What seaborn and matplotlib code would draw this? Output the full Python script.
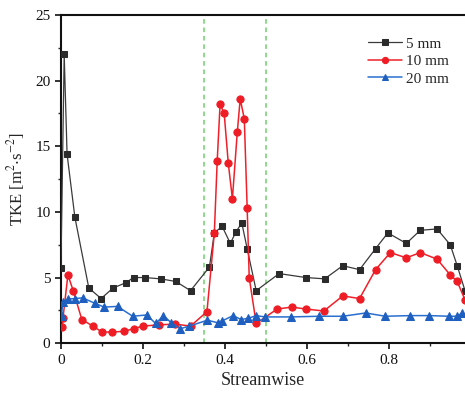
import matplotlib
matplotlib.use("Agg")
import matplotlib.pyplot as plt
import seaborn as sns
import pandas as pd
from matplotlib.ticker import MultipleLocator

# 5 mm series
x5 = [0.0, 0.008, 0.015, 0.034, 0.068, 0.098, 0.127, 0.158, 0.177, 0.204, 0.243,
      0.28, 0.316, 0.362, 0.374, 0.393, 0.413, 0.427, 0.441, 0.454, 0.476,
      0.532, 0.597, 0.643, 0.687, 0.728, 0.767, 0.797, 0.842, 0.876, 0.917,
      0.949, 0.966, 0.985]
y5 = [5.7, 22.0, 14.4, 9.6, 4.2, 3.4, 4.2, 4.6, 5.0, 5.0, 4.9,
      4.7, 4.0, 5.8, 8.4, 8.9, 7.6, 8.5, 9.15, 7.2, 4.0,
      5.3, 5.0, 4.9, 5.9, 5.6, 7.2, 8.4, 7.6, 8.6, 8.7,
      7.5, 5.9, 4.0]

# 10 mm series
x10 = [0.003, 0.005, 0.017, 0.03, 0.051, 0.078, 0.1, 0.124, 0.153, 0.177, 0.2,
       0.24, 0.279, 0.316, 0.356, 0.374, 0.381, 0.388, 0.398, 0.408, 0.418,
       0.43, 0.437, 0.447, 0.454, 0.459, 0.476, 0.527, 0.563, 0.597, 0.641,
       0.687, 0.728, 0.767, 0.803, 0.842, 0.876, 0.917, 0.949, 0.966, 0.985]
y10 = [1.2, 1.9, 5.2, 4.0, 1.8, 1.3, 0.85, 0.85, 0.9, 1.1, 1.3,
       1.4, 1.45, 1.3, 2.4, 8.4, 13.9, 18.2, 17.5, 13.7, 11.0,
       16.1, 18.6, 17.1, 10.3, 5.0, 1.5, 2.6, 2.75, 2.6, 2.45,
       3.6, 3.4, 5.6, 6.9, 6.5, 6.9, 6.4, 5.2, 4.7, 3.3]

# 20 mm series
x20 = [0.002, 0.004, 0.017, 0.034, 0.053, 0.082, 0.105, 0.138, 0.175, 0.209,
       0.231, 0.25, 0.269, 0.291, 0.313, 0.357, 0.383, 0.393, 0.42, 0.439,
       0.457, 0.476, 0.497, 0.56, 0.63, 0.687, 0.743, 0.791, 0.852, 0.898,
       0.947, 0.966, 0.978]
y20 = [2.1, 3.1, 3.35, 3.4, 3.45, 3.05, 2.75, 2.8, 2.05, 2.15,
       1.5, 2.1, 1.55, 1.1, 1.3, 1.75, 1.55, 1.7, 2.1, 1.8,
       1.9, 2.1, 2.0, 2.0, 2.05, 2.05, 2.3, 2.05, 2.1, 2.1,
       2.05, 2.05, 2.3]

labels = ["5 mm", "10 mm", "20 mm"]
region = [0.35, 0.5]

sns.set_style("ticks")
plt.rcParams["font.family"] = ["Liberation Serif", "DejaVu Serif"]
plt.rcParams["mathtext.fontset"] = "stix"

fig = plt.figure(figsize=(4.65, 3.94), dpi=100)
ax = fig.add_axes([0.131, 0.129, 0.869, 0.833])

for xv in region:
    ax.axvline(xv, color="#6fcf6f", linestyle=(0, (3, 2.5)), linewidth=1.1, zorder=1)

specs = [
    (x5, y5, labels[0], "#3a3a3a", "#2b2b2b", "s", 4.0, 0.9),
    (x10, y10, labels[1], "#f0202a", "#ee1c25", "o", 5.2, 1.1),
    (x20, y20, labels[2], "#2a6fd0", "#1f5fbf", "^", 5.3, 1.1),
]
for xs, ys, lab, lc, mc, mk, ms, lw in specs:
    df = pd.DataFrame({"x": xs, "y": ys})
    sns.lineplot(data=df, x="x", y="y", ax=ax, sort=False, estimator=None,
                 color=lc, linewidth=lw, marker=mk, markersize=ms,
                 markerfacecolor=mc, markeredgecolor=mc, label=lab, zorder=3)

ax.set_xlim(0, 0.985)
ax.set_ylim(0, 25)
ax.xaxis.set_major_locator(MultipleLocator(0.2))
ax.xaxis.set_minor_locator(MultipleLocator(0.1))
ax.yaxis.set_major_locator(MultipleLocator(5))
ax.yaxis.set_minor_locator(MultipleLocator(2.5))
ax.set_xticks([0, 0.2, 0.4, 0.6, 0.8])
ax.set_xticklabels(["0", "0.2", "0.4", "0.6", "0.8"])
ax.tick_params(which="major", direction="out", length=4, width=1.2, labelsize=11, colors="#111111")
ax.tick_params(which="minor", direction="out", length=2.5, width=1.0)
for s in ["left", "bottom", "top"]:
    ax.spines[s].set_linewidth(1.5)
    ax.spines[s].set_color("#111111")
ax.spines["right"].set_visible(False)

ax.set_xlabel("Streamwise", fontsize=13, labelpad=4)
ax.set_ylabel(r"TKE [m$^2$$\cdot$s$^{-2}$]", fontsize=12, labelpad=6)

leg = ax.legend(loc="upper right", bbox_to_anchor=(0.995, 0.975), frameon=False,
                fontsize=11, handlelength=2.2, handletextpad=0.3, labelspacing=0.25)
for h in leg.get_lines():
    h.set_markersize(4.5)

fig.savefig("out.png", dpi=100)
